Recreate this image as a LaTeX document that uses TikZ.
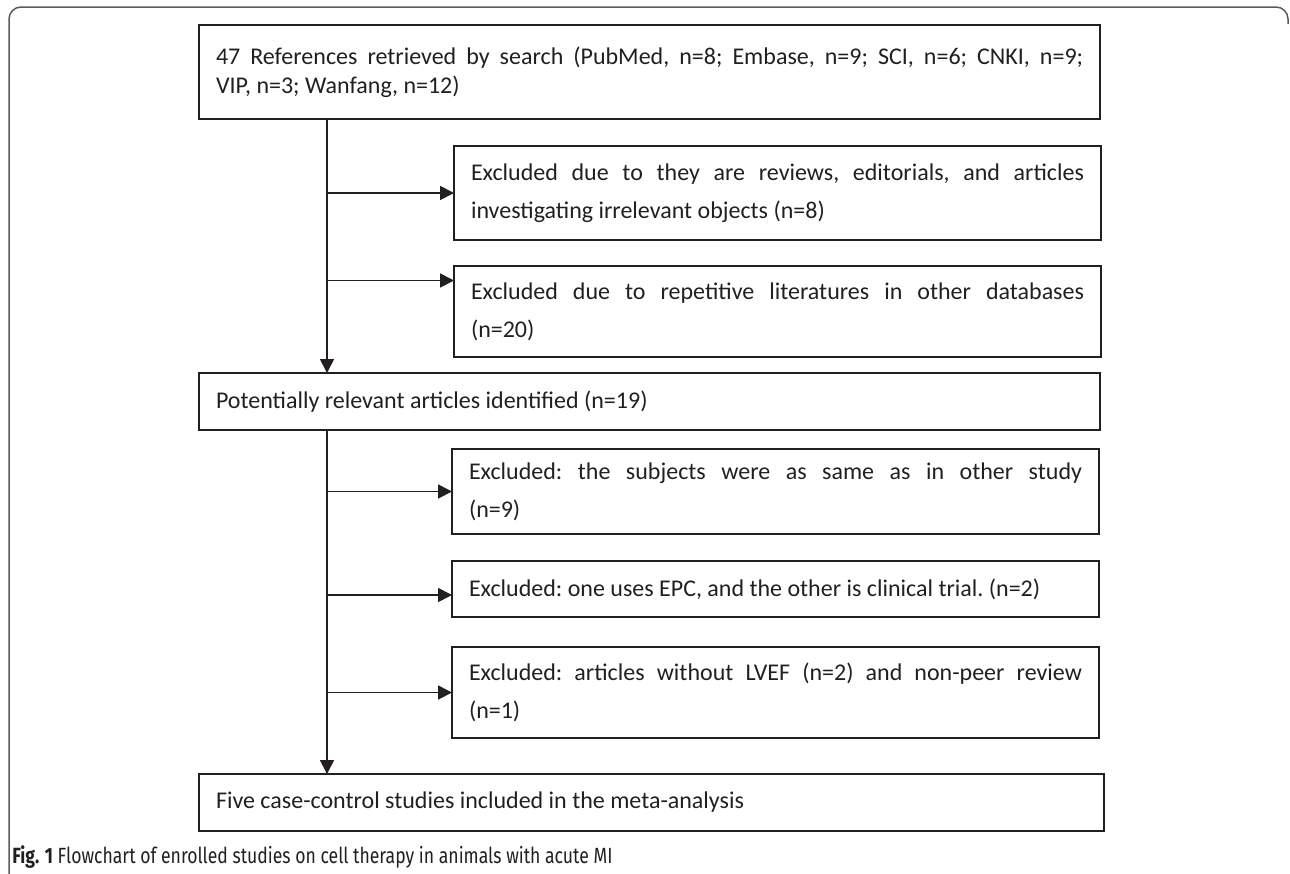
\documentclass[tikz,border=0pt]{standalone}
\usepackage{fontspec}
\setmainfont{Carlito}
\newfontfamily\capfont[FakeStretch=0.8]{Fira Sans}
\usetikzlibrary{arrows.meta}
\definecolor{ink}{HTML}{231F20}
\definecolor{rim}{HTML}{5A5A5A}

\begin{document}
\begin{tikzpicture}[x=0.5pt,y=-0.5pt]
  \tikzset{>={Triangle[length=7pt,width=7pt]},
    box/.style={draw=ink,line width=0.9pt,outer sep=0pt,anchor=north west,inner xsep=8.5pt,
      text=ink,font=\fontsize{12}{19}\selectfont\frenchspacing,align=justify},
    wide/.style={box,minimum width=450.5pt,text width=433.5pt},
    side/.style={box,minimum width=323.5pt,text width=306.5pt},
    link/.style={draw=ink,line width=0.9pt,->}}

  \useasboundingbox (0,0) rectangle (1290,873);
  \draw[rim,line width=0.75pt,rounded corners=6pt] (9,880) -- (9,7) -- (1288,7) -- (1288,24);

  \node[wide,minimum height=47pt,font=\fontsize{12}{14.5}\selectfont\frenchspacing] (refs) at (199,25)
    {47 References retrieved by search (PubMed, n=8; Embase, n=9; SCI, n=6; CNKI, n=9;\linebreak VIP, n=3; Wanfang, n=12)};
  \node[side,minimum height=47pt] (excl1) at (454,146)
    {Excluded due to they are reviews, editorials, and articles\linebreak investigating irrelevant objects (n=8)};
  \node[side,minimum height=45.5pt] (excl2) at (454,266)
    {Excluded due to repetitive literatures in other databases\linebreak (n=20)};
  \node[wide,minimum height=28.5pt] (pot) at (199,373)
    {Potentially relevant articles identified (n=19)};
  \node[side,minimum height=42.5pt] (excl3) at (452,449)
    {Excluded: the subjects were as same as in other study\linebreak (n=9)};
  \node[side,minimum height=28pt] (excl4) at (452,561)
    {Excluded: one uses EPC, and the other is clinical trial. (n=2)};
  \node[side,minimum height=45.5pt] (excl5) at (452,647)
    {Excluded: articles without LVEF (n=2) and non-peer review\linebreak (n=1)};
  \node[wide,minimum height=28.5pt,minimum width=452.5pt,text width=435.5pt] (final) at (199,774)
    {Five case-control studies included in the meta-analysis};

  \coordinate (trunk) at (327,0);

  \draw[link] (refs.south -| trunk) -- (pot.north -| trunk);
  \draw[link] (excl1.west -| trunk) -- (excl1.west);
  \draw[link] ([yshift=15.5pt]excl2.west -| trunk) -- ([yshift=15.5pt]excl2.west);
  \draw[link] (pot.south -| trunk) -- (final.north -| trunk);
  \draw[link] (excl3.west -| trunk) -- (excl3.west);
  \draw[link] ([yshift=-3pt]excl4.west -| trunk) -- ([yshift=-3pt]excl4.west);
  \draw[link] (excl5.west -| trunk) -- (excl5.west);

  \node[anchor=west,inner sep=0pt,text=ink,font=\capfont\fontsize{11}{13}\selectfont] (caption) at (12,857)
    {\textbf{Fig. 1} Flowchart of enrolled studies on cell therapy in animals with acute MI};
\end{tikzpicture}
\end{document}
